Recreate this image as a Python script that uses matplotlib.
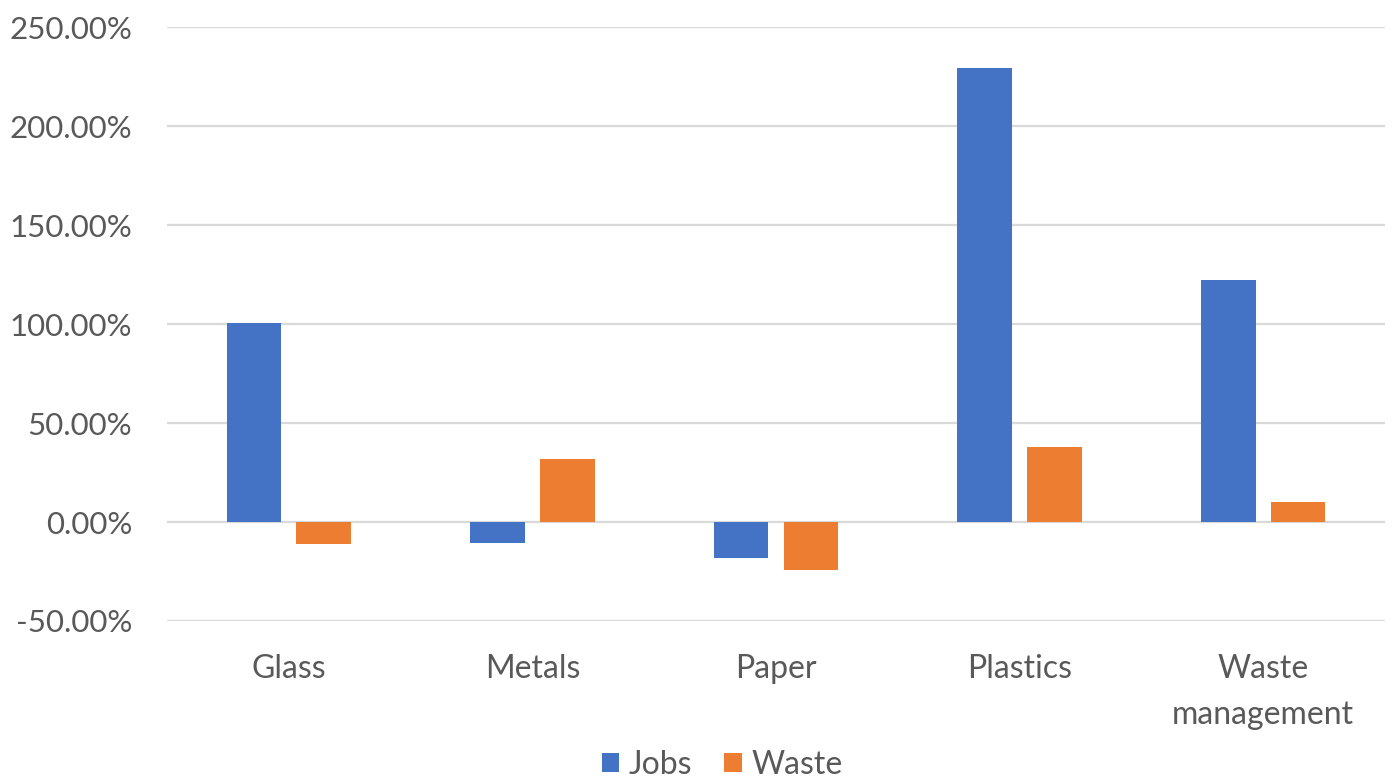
import matplotlib
matplotlib.use("Agg")
import matplotlib.pyplot as plt
import numpy as np
from matplotlib.ticker import FuncFormatter

categories = ["Glass", "Metals", "Paper", "Plastics", "Waste\nmanagement"]
jobs = [100.3, -10.5, -18.1, 229.4, 122.1]
waste = [-10.9, 32.0, -24.0, 38.0, 10.3]
yticks = [-50, 0, 50, 100, 150, 200, 250]

plt.rcParams['font.family'] = ['Lato', 'DejaVu Sans']
text_color = "#595959"

fig = plt.figure(figsize=(13.93, 7.79), dpi=100)
ax = fig.add_axes([167/1393, 1-621/779, (1385-167)/1393, (621-27)/779])

x = np.arange(len(categories))
w = 0.224
off = 0.143
ax.bar(x - off, jobs, w, color="#4472C4", label="Jobs", zorder=3)
ax.bar(x + off, waste, w, color="#ED7D31", label="Waste", zorder=3)

ax.set_xlim(-0.5, len(categories) - 0.5)
ax.set_ylim(-50, 250)
ax.set_yticks(yticks)
ax.yaxis.set_major_formatter(FuncFormatter(lambda v, p: f"{v:.2f}%"))
ax.grid(axis="y", color="#d9d9d9", linewidth=1.6, zorder=0)
ax.set_axisbelow(True)
for s in ax.spines.values():
    s.set_visible(False)
ax.tick_params(axis="y", length=0, pad=25, labelsize=22.5, labelcolor=text_color)
ax.set_xticks(x)
ax.set_xticklabels(categories, fontsize=23, color=text_color, linespacing=1.65, va="top")
ax.tick_params(axis="x", length=0, pad=24)

fig.legend(loc="center", bbox_to_anchor=(722/1393, 1-765/779), ncol=2, frameon=False,
           fontsize=23, handlelength=0.55, handleheight=0.55, handletextpad=0.3,
           columnspacing=1.0, labelcolor=text_color)

fig.savefig("out.png", dpi=100)
